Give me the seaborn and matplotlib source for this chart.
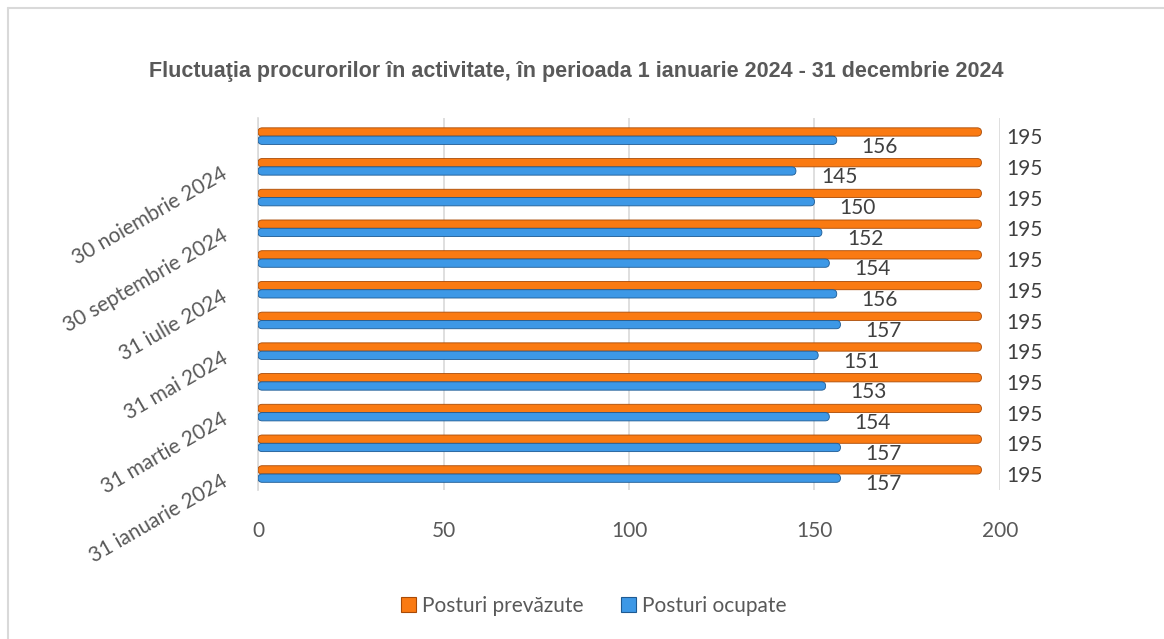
import pandas as pd
import matplotlib
matplotlib.use("Agg")
import matplotlib.pyplot as plt
import matplotlib.transforms as mtransforms
import seaborn as sns
from matplotlib.patches import FancyBboxPatch
from matplotlib.lines import Line2D

months = ["31 ianuarie 2024", "29 februarie 2024", "31 martie 2024", "30 aprilie 2024",
          "31 mai 2024", "30 iunie 2024", "31 iulie 2024", "31 august 2024",
          "30 septembrie 2024", "31 octombrie 2024", "30 noiembrie 2024", "31 decembrie 2024"]
prevazute = [195, 195, 195, 195, 195, 195, 195, 195, 195, 195, 195, 195]
ocupate = [157, 157, 154, 153, 151, 157, 156, 154, 152, 150, 145, 156]
series = ["Posturi prevăzute", "Posturi ocupate"]
colors = ["#FA7A12", "#3D98E6"]
edges = ["#A84A06", "#1E5A92"]

TXT = "#595959"
FS = 15


def build_frame():
    rows = []
    for m, p, o in zip(months, prevazute, ocupate):
        rows.append({"luna": m, "serie": series[0], "valoare": p})
        rows.append({"luna": m, "serie": series[1], "valoare": o})
    return pd.DataFrame(rows)


def round_bars(ax):
    """Swap the flat bars for rounded ones (Excel-like cylinder look)."""
    bbox = ax.get_window_extent()
    x0, x1 = ax.get_xlim()
    y0, y1 = ax.get_ylim()
    xpx = bbox.width / (x1 - x0)
    ypx = bbox.height / abs(y1 - y0)
    aspect = xpx / ypx
    new = []
    for bar in list(ax.patches):
        x, y = bar.get_x(), bar.get_y()
        w, h = bar.get_width(), bar.get_height()
        r = abs(h) / aspect / 2
        p = FancyBboxPatch((x, y), w, h,
                           boxstyle=f"round,pad=0,rounding_size={r}",
                           mutation_aspect=aspect,
                           facecolor=bar.get_facecolor(), edgecolor=bar.get_edgecolor(),
                           linewidth=0.6, zorder=3)
        new.append((bar, p))
    for bar, p in new:
        bar.set_visible(False)
        ax.add_patch(p)


def main():
    df = build_frame()
    sns.set_style("white")
    plt.rcParams["font.family"] = ["Lato", "DejaVu Sans"]

    fig = plt.figure(figsize=(11.64, 6.39), dpi=100)
    ax = fig.add_axes([258 / 1164, 1 - 490 / 639, 742 / 1164, 372 / 639])

    order = months[::-1]
    sns.barplot(data=df, y="luna", x="valoare", hue="serie", order=order,
                hue_order=series, palette=colors, orient="h", width=0.54,
                saturation=1, ax=ax, legend=False, zorder=3)

    ax.set_xlim(0, 200)
    ax.set_ylim(11.52, -0.59)

    n = len(months)
    for i, bar in enumerate(ax.patches[:2 * n]):
        bar.set_edgecolor(edges[i // n])

    # value labels
    for bar in ax.patches[:2 * n]:
        val = bar.get_width()
        yc = bar.get_y() + bar.get_height() / 2
        ax.annotate(f"{val:.0f}", xy=(val, yc), xytext=(18, -4.5),
                    textcoords="offset points", ha="left", va="center",
                    fontsize=FS, color="#404040")

    round_bars(ax)

    ax.set_xticks([0, 50, 100, 150, 200])
    ax.xaxis.grid(True, color="#D9D9D9", linewidth=1.2, zorder=0)
    ax.tick_params(axis="x", length=0, pad=22, labelsize=FS, labelcolor=TXT)

    shown = [m for j, m in enumerate(months) if j % 2 == 0]
    ax.set_yticks([order.index(m) for m in shown])
    ax.set_yticklabels(shown, rotation=30, ha="right", va="center",
                       rotation_mode="anchor", fontsize=FS, color=TXT)
    ax.tick_params(axis="y", length=0, pad=23)
    shift = mtransforms.ScaledTranslation(0, -4 / 72, fig.dpi_scale_trans)
    for lab in ax.get_yticklabels():
        lab.set_transform(lab.get_transform() + shift)

    ax.set_xlabel("")
    ax.set_ylabel("")
    for s in ["top", "right", "bottom"]:
        ax.spines[s].set_visible(False)
    ax.spines["left"].set_color("#D9D9D9")
    ax.spines["left"].set_linewidth(1.2)

    fig.text(0.495, 1 - 72 / 639,
             "Fluctuaţia procurorilor în activitate, în perioada 1 ianuarie 2024 - 31 decembrie 2024",
             ha="center", va="center", fontsize=15.5, fontweight="bold",
             color=TXT, family=["Liberation Sans", "DejaVu Sans"])

    handles = [plt.Rectangle((0, 0), 1, 1, facecolor=c, edgecolor=e, linewidth=0.8)
               for c, e in zip(colors, edges)]
    fig.legend(handles, series, loc="center", bbox_to_anchor=(594 / 1164, 1 - 606 / 639),
               ncol=2, frameon=False, fontsize=FS, labelcolor=TXT,
               handlelength=0.7, handleheight=0.7, handletextpad=0.3, columnspacing=1.8)

    # chart frame (left and top edges visible in the source)
    fig.add_artist(Line2D([8 / 1164, 8 / 1164], [0, 1 - 8 / 639],
                          transform=fig.transFigure, color="#D9D9D9", linewidth=1.5))
    fig.add_artist(Line2D([8 / 1164, 1], [1 - 8 / 639, 1 - 8 / 639],
                          transform=fig.transFigure, color="#D9D9D9", linewidth=1.5))

    fig.savefig("out.png", dpi=100)


if __name__ == "__main__":
    main()
